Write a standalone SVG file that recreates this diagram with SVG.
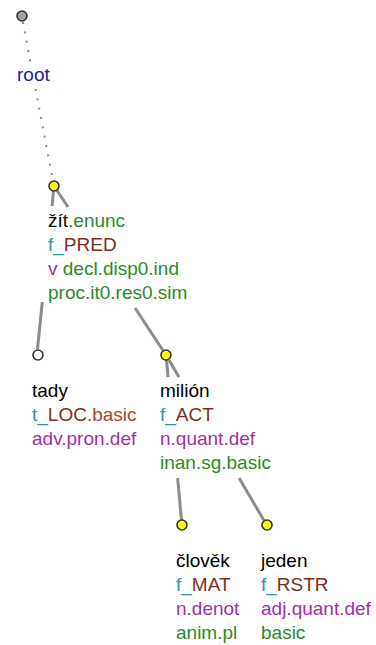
<svg xmlns="http://www.w3.org/2000/svg" width="376" height="645" viewBox="0 0 376 645">
<style>
text{font-family:"Liberation Sans",Arial,sans-serif;font-size:19px}
.lem{fill:#000}
.gr{fill:#2a8a2a}
.tl{fill:#2a9a9a}
.br{fill:#7e2e1e}
.rb{fill:#a84632}
.pu{fill:#a030a8}
.rt{fill:#2020a0}
.edge{stroke:#8c8c8c;stroke-width:3;fill:none}
.dot{stroke:#8c8c8c;stroke-width:2;fill:none;stroke-dasharray:2 7.5}
.nd{stroke:#333;stroke-width:1.6}
</style>
<rect width="376" height="645" fill="#fff"/>
<g id="connectors">
<line class="dot" x1="23" y1="22" x2="30.5" y2="63"/>
<line class="dot" x1="35.5" y1="89" x2="53" y2="181"/>
<line class="edge" x1="53.5" y1="191" x2="52" y2="206"/>
<line class="edge" x1="42.3" y1="302" x2="37.5" y2="349"/>
<line class="edge" x1="57" y1="190.5" x2="68" y2="207"/>
<line class="edge" x1="135" y1="308" x2="163" y2="350.5"/>
<line class="edge" x1="166.5" y1="360" x2="168.1" y2="377"/>
<line class="edge" x1="177.6" y1="478" x2="181.5" y2="520"/>
<line class="edge" x1="169" y1="360" x2="179" y2="377"/>
<line class="edge" x1="239.1" y1="478" x2="264" y2="520.5"/>
</g>
<g id="node-root">
<circle class="nd" cx="22" cy="16" r="5" fill="#a0a0a0"/>
<text x="17" y="81" class="rt">root</text>
</g>
<g id="node-zit">
<circle class="nd" cx="54" cy="186" r="5" fill="#ffff00"/>
<text x="48" y="227"><tspan class="lem">žít</tspan><tspan class="gr">.enunc</tspan></text>
<text x="48" y="251"><tspan class="tl">f_</tspan><tspan class="br">PRED</tspan></text>
<text x="48" y="275"><tspan class="pu">v</tspan><tspan class="gr"> decl.disp0.ind</tspan></text>
<text x="48" y="299" class="gr">proc.it0.res0.sim</text>
</g>
<g id="node-tady">
<circle class="nd" cx="38" cy="355" r="5" fill="#fff"/>
<text x="32" y="397" class="lem">tady</text>
<text x="32" y="421"><tspan class="tl">t_</tspan><tspan class="br">LOC</tspan><tspan class="rb">.basic</tspan></text>
<text x="32" y="445" class="pu">adv.pron.def</text>
</g>
<g id="node-milion">
<circle class="nd" cx="166" cy="355" r="5" fill="#ffff00"/>
<text x="160" y="397" class="lem">milión</text>
<text x="160" y="421"><tspan class="tl">f_</tspan><tspan class="br">ACT</tspan></text>
<text x="160" y="445" class="pu">n.quant.def</text>
<text x="160" y="469" class="gr">inan.sg.basic</text>
</g>
<g id="node-clovek">
<circle class="nd" cx="182" cy="525" r="5" fill="#ffff00"/>
<text x="176" y="567" class="lem">člověk</text>
<text x="176" y="591"><tspan class="tl">f_</tspan><tspan class="br">MAT</tspan></text>
<text x="176" y="615" class="pu">n.denot</text>
<text x="176" y="639" class="gr">anim.pl</text>
</g>
<g id="node-jeden">
<circle class="nd" cx="267" cy="525" r="5" fill="#ffff00"/>
<text x="261" y="567" class="lem">jeden</text>
<text x="261" y="591"><tspan class="tl">f_</tspan><tspan class="br">RSTR</tspan></text>
<text x="261" y="615" class="pu">adj.quant.def</text>
<text x="261" y="639" class="gr">basic</text>
</g>
</svg>
